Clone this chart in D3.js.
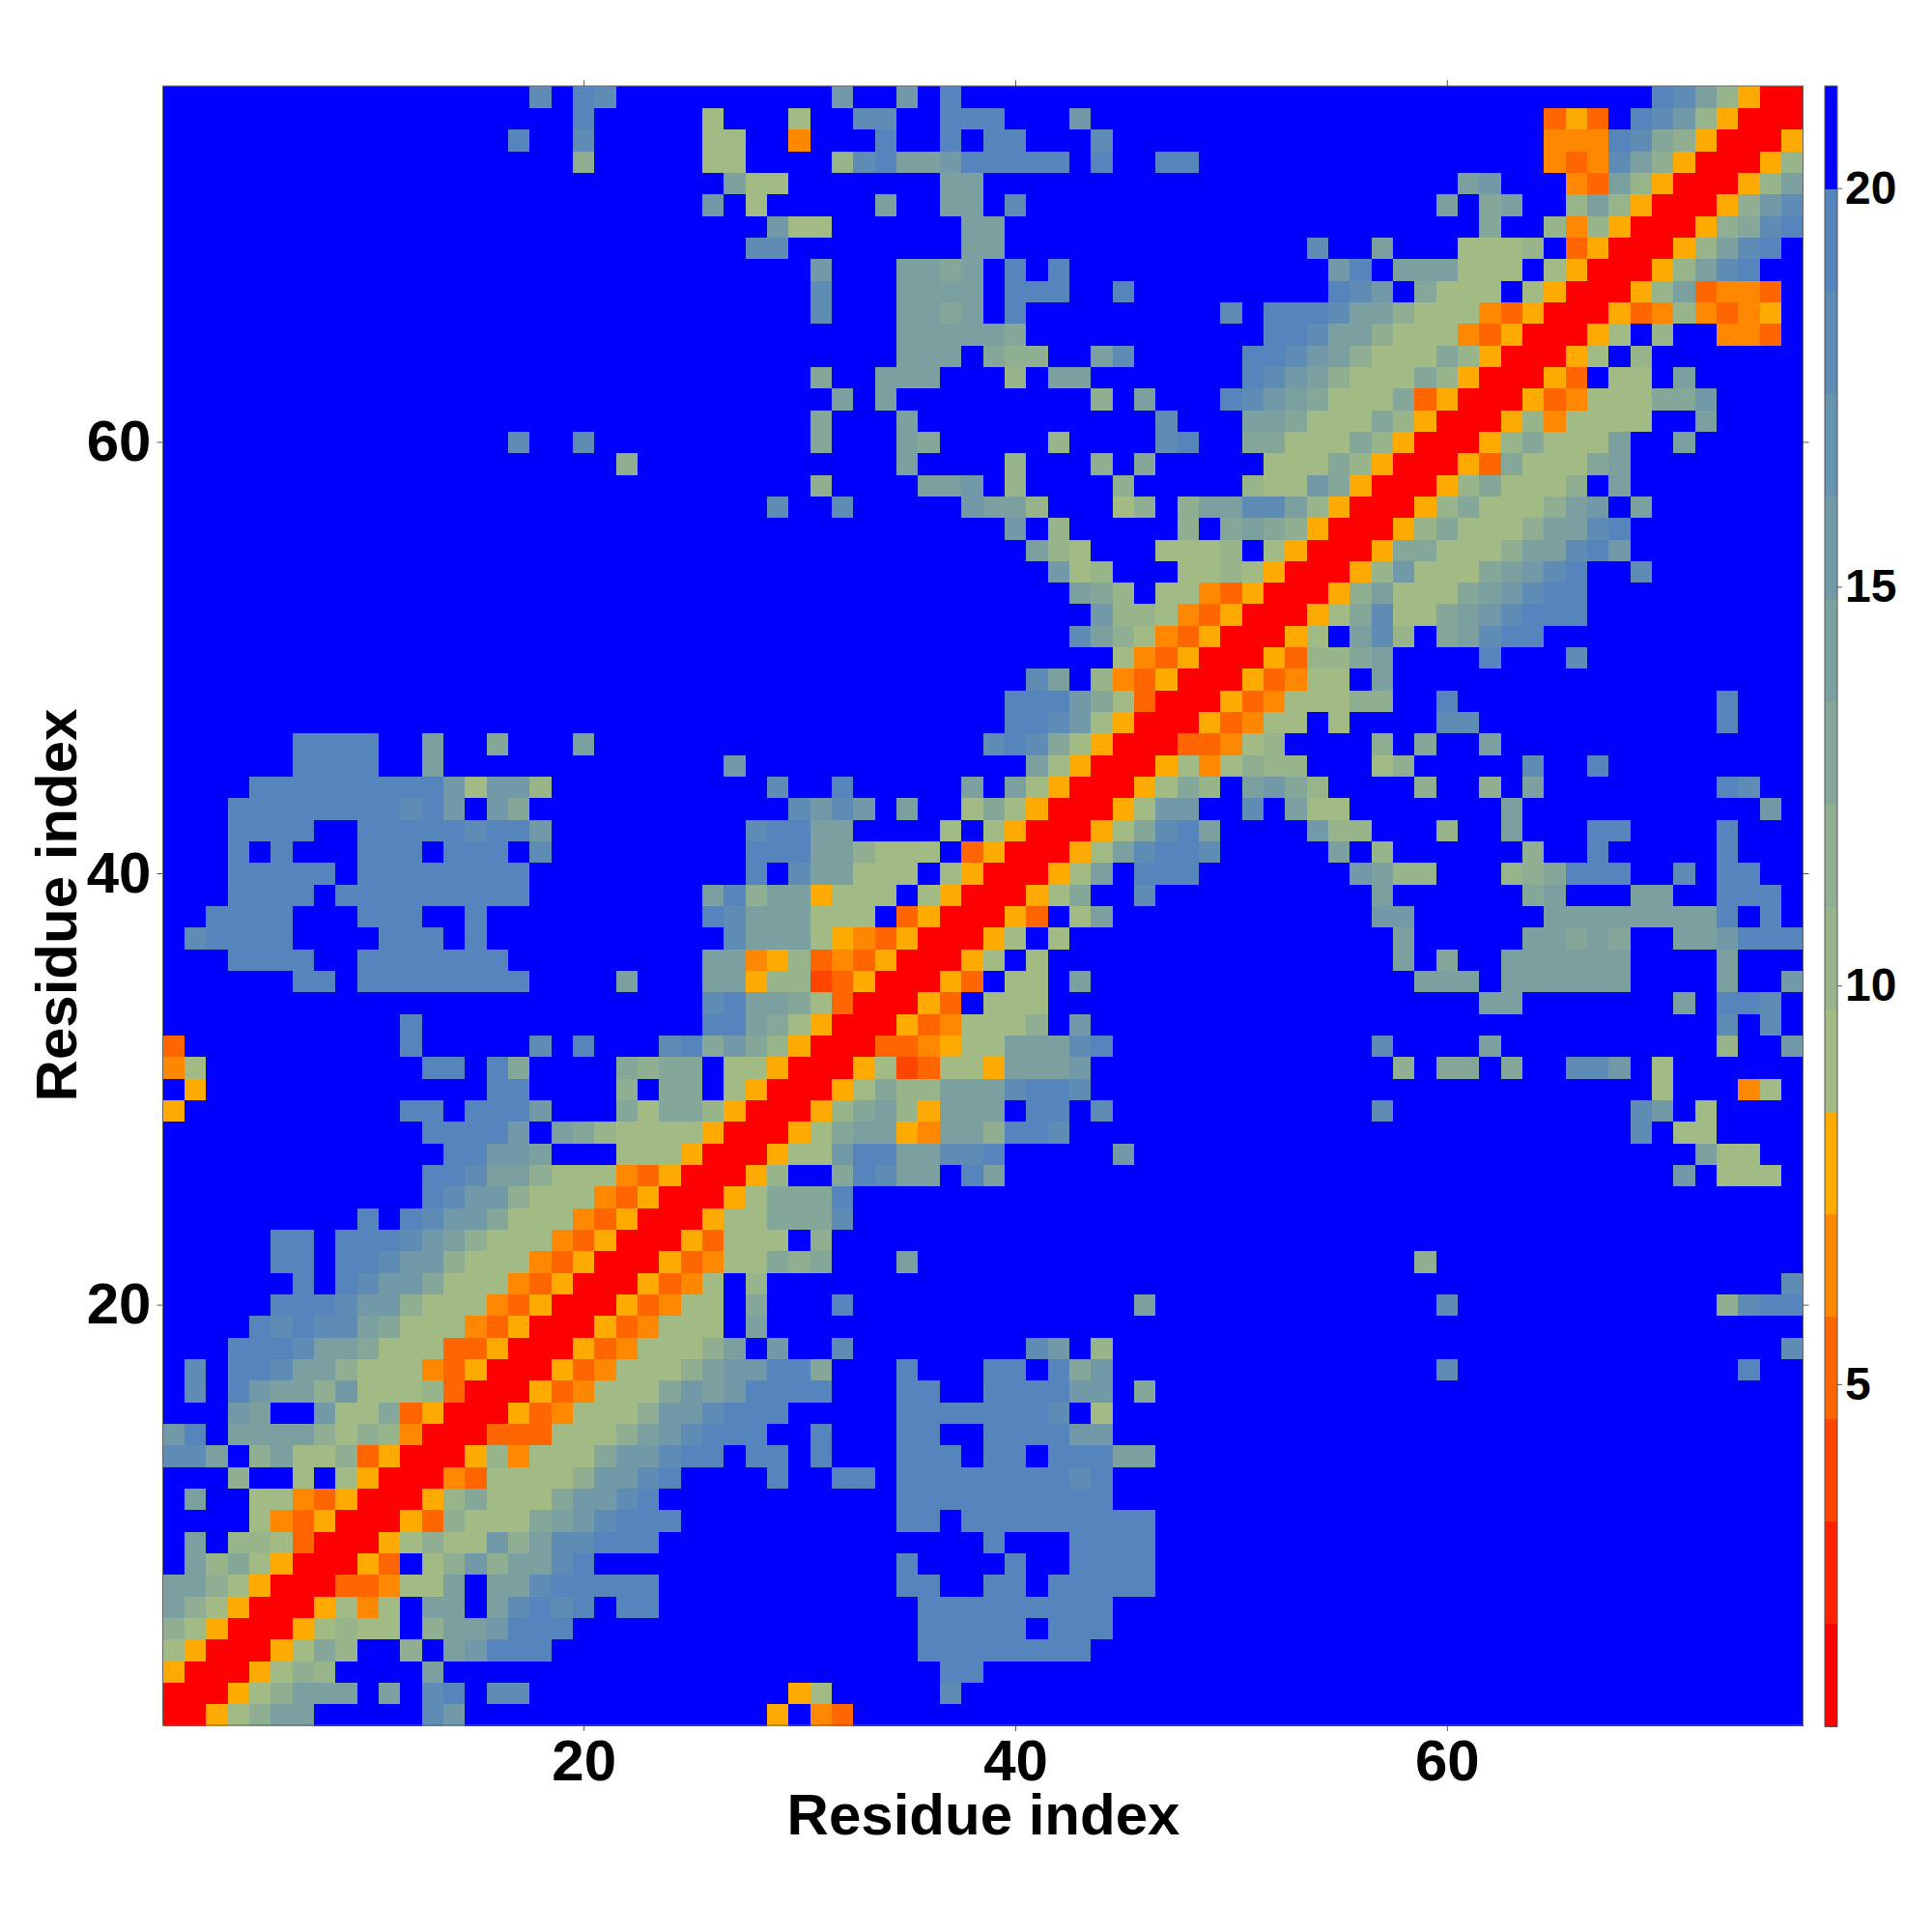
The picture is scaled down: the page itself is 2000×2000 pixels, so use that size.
<!DOCTYPE html>
<html><head><meta charset="utf-8">
<script src="https://cdn.jsdelivr.net/npm/d3@7"></script>
<style>html,body{margin:0;padding:0;background:#fff}svg{display:block}text{font-family:"Liberation Sans",Arial,sans-serif;font-weight:bold;fill:#000}</style>
</head><body><div id="c"></div>
<script>
// Upper triangle of the symmetric distance map, one entry per residue y (1..76).
// Each "x:codes" segment starts at residue x; a code is the colour-band index of a cell (hex).
// Cells that are not listed are in the top band (distance above 20).
const upperRows = [
"1:00568aa 13:db 29:5 31:43",
"2:00568aaa 11:a 13:de 16:dd 30:56 37:d",
"3:005687 13:a 37:ee",
"4:005697 12:8 14:abeee 36:eeeeeeee",
"5:0056766 13:8aabeee 36:eeeee 42:eee",
"6:005646 13:aa 16:adede 22:ee 36:eeeeeeeee",
"7:0033466a 16:aadeeeee 35:ee 39:ee 42:eeeee",
"8:0053 13:68b8aade 35:e 40:e 43:eeee",
"9:0056866b8addeee 39:e 43:eeee",
"10:005386669abdeee 35:ee 38:eeeeeeeee",
"11:005796669bbde 35:eeeeeeeeee",
"12:004366668bbde 29:e 32:ee 35:eeeeeeeede",
"13:005746669bbdee 28:ee 31:e 35:eee 39:ee 42:eee 45:aa",
"14:003336668abdeee 31:e 35:ee 39:eeee 43:bb",
"15:005346668bbdeee 35:eeeeeeed 44:6",
"16:005346669babeeee 35:ee 39:eeee 43:bb 46:9",
"17:005346668abbee9 35:e 39:ee 42:e9b 60:d 74:e",
"18:005346668a 29:b 32:d 41:db 44:7 76:d",
"19:00534666 28:a",
"20:0053466 28:9 32:e 46:a 60:d 73:8dee",
"21:005346 28:7 76:d",
"22:0053466989 35:a 59:8",
"23:0053666 31:8",
"24:00566999d",
"25:0056999e",
"26:0057 32:9edaa 38:ea 71:b 73:666",
"27:00566beeaadde 45:b 72:a66",
"28:00569aa54aa8eed 69:d 71:66",
"29:00579a75aaa 41:ee 44:d 57:d 69:db 72:6",
"30:0056977aaadeed 70:6 74:46",
"31:005623665aaab 58:8 60:99 63:9 66:ddb 70:6",
"32:00334566aaade 57:d 62:a 73:7 76:b",
"33:005346668 43:b 73:d 75:d",
"34:0053 39:666 62:aa 71:a 73:eed",
"35:0053 40:66 43:a 59:aaa 63:aaaaaa 73:a 76:b",
"36:0056 41:6 58:a 60:9 63:aaaaaa 73:a",
"37:0056 42:6 58:a 64:aa9a9 71:aabeee",
"38:0053 43:6a 57:bb 65:aaaaaaaa 73:e 75:e",
"39:00569 46:d 57:a 64:9a 69:aa 73:eee",
"40:0056a 46:eee 56:ba77 63:789eee 71:d 73:ee",
"41:0056adeed 55:a 57:7 64:8 67:e 73:e",
"42:00569dea 54:b77 60:7 63:a 67:ee 73:e",
"43:0056bb 51:d 53:a66 63:a 75:b",
"44:005697 51:ab97 59:8 62:8 64:a 73:ed",
"45:005646877 57:68 64:d 67:e",
"46:0033467 57:8 59:9 62:a",
"47:0053466 55:6 60:dd 73:e",
"48:0053466688 60:e 73:e",
"49:0053466 57:a",
"50:0053779a 62:e 66:d",
"51:0056 56:ad7 60:9adee",
"52:00569d669abdeee",
"53:0058a6669abdee",
"54:0057b6669abde 69:d",
"55:005996668aadeb",
"56:005796668aade",
"57:005796668ab 69:a",
"58:005796668 68:a",
"59:005396669a",
"60:00579666a 71:a",
"61:005746666 72:a",
"62:0053466699b",
"63:0053 68:66 71:a",
"64:0056 69:7",
"65:0056 70:7 73:443",
"66:0053474345",
"67:0057a3443",
"68:0057ade",
"69:0057ade",
"70:00589de",
"71:0058bd",
"72:0057a",
"73:0057",
"74:005",
"75:00",
"76:0"
];
const residueCount = 76;
const palette = ["#ff0000","#ff2200","#ff4500","#ff6600","#ff8800","#ffaa00","#a2bb84","#98b48b","#8fae92","#85a799","#7ca0a0","#7299a7","#6893ae","#5f8cb5","#5585bc","#0000ff"];
const valueMin = 0.71, valueMax = 21.28;
const axisTicks = [20,40,60];
const barTicks = [5,10,15,20];
const axisTitle = "Residue index";

const W=2000,H=2000,L=168.5,R=1866.5,T=89,B=1786;
const bandStep=(valueMax-valueMin)/palette.length;
const colour=d3.scaleQuantize().domain([valueMin,valueMax]).range(palette);
const valueOf=l=>valueMin+(l+.5)*bandStep;

const matrix=d3.range(residueCount).map(()=>new Array(residueCount).fill(valueOf(15)));
upperRows.forEach((row,i)=>{
  row.split(" ").forEach(seg=>{
    const [s,codes]=seg.split(":");
    [...codes].forEach((c,k)=>{
      const x=+s-1+k, v=valueOf(parseInt(c,16));
      matrix[i][x]=v; matrix[x][i]=v;
    });
  });
});
const cells=[];
matrix.forEach((r,yi)=>r.forEach((v,xi)=>cells.push({x:xi+1,y:yi+1,v})));

const x=d3.scaleLinear().domain([.5,residueCount+.5]).range([L,R]);
const y=d3.scaleLinear().domain([.5,residueCount+.5]).range([B,T]);
const svg=d3.select("#c").append("svg").attr("width",W).attr("height",H);

svg.append("g").attr("shape-rendering","crispEdges").selectAll("rect").data(cells).join("rect")
  .attr("x",d=>x(d.x-.5)).attr("y",d=>y(d.y+.5))
  .attr("width",d=>x(d.x+.5)-x(d.x-.5)+.6).attr("height",d=>y(d.y-.5)-y(d.y+.5)+.6)
  .attr("fill",d=>colour(d.v));
svg.append("rect").attr("x",L).attr("y",T).attr("width",R-L).attr("height",B-T).attr("fill","none").attr("stroke","#666").attr("stroke-width",1);

function axis(gen,tx,ty,labels,pad){
  const g=svg.append("g").attr("transform",`translate(${tx},${ty})`)
    .call(gen.tickValues(axisTicks).tickSize(6).tickSizeOuter(0).tickPadding(labels?pad:0).tickFormat(labels?d3.format("d"):""));
  g.select(".domain").remove();
  g.selectAll("line").attr("stroke","#555").attr("stroke-width",1);
  g.selectAll("text").attr("font-size",60).attr("font-family","Liberation Sans").attr("font-weight","bold").attr("fill","#000");
  return g;
}
axis(d3.axisBottom(x),0,B,true,8);
axis(d3.axisTop(x),0,T,false,0);
axis(d3.axisLeft(y),L,0,true,6);
axis(d3.axisRight(y),R,0,false,0);

svg.append("text").attr("x",1018).attr("y",1899).attr("text-anchor","middle").attr("font-size",60).text(axisTitle);
svg.append("text").attr("transform","translate(79,937) rotate(-90)").attr("text-anchor","middle").attr("font-size",60).text(axisTitle);

// colour bar
const bx0=1889,bx1=1902;
const by=d3.scaleLinear().domain([valueMin,valueMax]).range([1787,89]);
svg.append("g").attr("shape-rendering","crispEdges").selectAll("rect").data(palette).join("rect")
  .attr("x",bx0).attr("width",bx1-bx0)
  .attr("y",(c,i)=>by(valueMin+(i+1)*bandStep)).attr("height",(c,i)=>by(valueMin+i*bandStep)-by(valueMin+(i+1)*bandStep)+.6)
  .attr("fill",c=>c);
svg.append("rect").attr("x",bx0).attr("y",89).attr("width",bx1-bx0).attr("height",1698).attr("fill","none").attr("stroke","#555").attr("stroke-width",1);
const bg=svg.append("g").attr("transform",`translate(${bx1},0)`).call(d3.axisRight(by).tickValues(barTicks).tickSize(5).tickSizeOuter(0).tickPadding(3).tickFormat(d3.format("d")));
bg.select(".domain").remove();
bg.selectAll("line").attr("stroke","#555");
bg.selectAll("text").attr("font-size",48).attr("font-family","Liberation Sans").attr("font-weight","bold").attr("fill","#000");
</script></body></html>
